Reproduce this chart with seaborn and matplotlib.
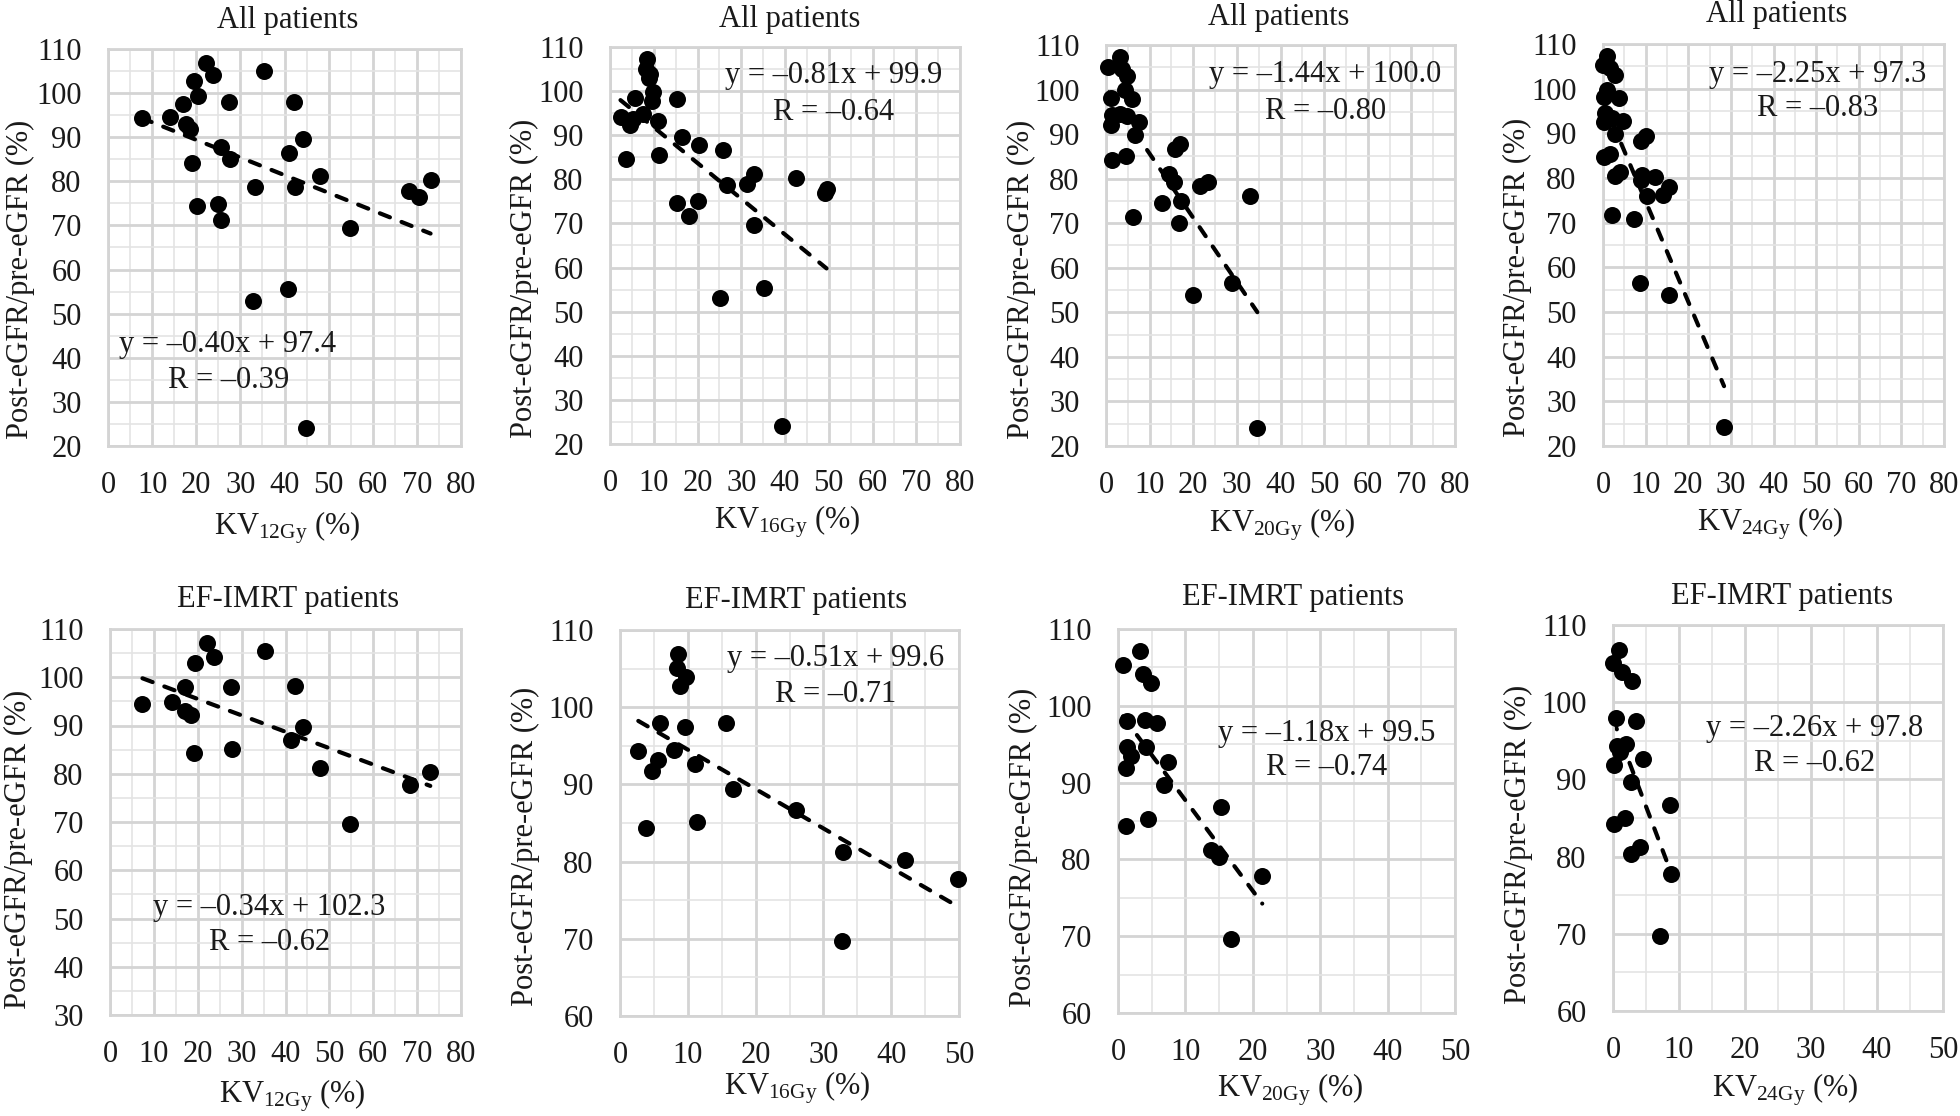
import numpy as np
import pandas as pd
import matplotlib
matplotlib.use("Agg")
import matplotlib.pyplot as plt
import seaborn as sns
from matplotlib.ticker import MultipleLocator

# ---------------- data ----------------
# All patients
kv12_all = [7.6, 14.1, 17.0, 17.6, 18.5, 19.5, 20.3, 19.0, 20.2, 22.2, 23.8, 27.4, 25.5, 27.6, 25.0,
            25.5, 35.3, 33.3, 32.9, 42.1, 41.1, 44.1, 42.3, 40.8, 44.8, 48.0, 54.8, 68.3, 70.5, 73.1]
ratio12_all = [94.3, 94.5, 97.5, 93.0, 91.9, 102.8, 99.3, 84.2, 74.5, 106.9, 104.0, 97.9, 87.7, 85.0, 74.8,
               71.2, 105.0, 78.8, 52.9, 97.9, 86.5, 89.5, 78.8, 55.5, 24.0, 81.3, 69.5, 77.7, 76.5, 80.3]

kv16_all = [2.4, 3.7, 4.6, 5.7, 5.3, 7.6, 8.4, 8.2, 9.1, 8.8, 9.8, 9.5, 11.0, 11.3, 15.4, 15.4,
            16.4, 18.1, 20.4, 20.2, 25.9, 25.1, 26.8, 31.2, 32.8, 32.8, 35.3, 39.3, 42.5, 49.2, 49.5]
ratio16_all = [94.2, 84.7, 92.4, 98.5, 93.6, 94.8, 107.2, 105.1, 103.8, 102.9, 99.8, 97.7, 93.2, 85.5, 98.3, 74.7,
               89.6, 71.7, 87.7, 75.1, 86.7, 53.1, 78.8, 78.9, 81.3, 69.7, 55.4, 24.1, 80.3, 76.8, 77.8]

kv20_all = [0.4, 3.2, 4.7, 3.6, 1.15, 4.4, 5.9, 1.3, 1.15, 3.2, 4.7, 7.6, 6.6, 1.3, 4.5,
            6.3, 15.8, 17.0, 14.4, 15.5, 12.8, 17.3, 16.7, 21.5, 23.3, 20.0, 28.8, 32.9, 34.7]
ratio20_all = [105.1, 107.4, 103.0, 104.6, 98.2, 99.8, 97.8, 94.3, 92.1, 94.5, 94.1, 92.8, 89.7, 84.3, 85.1,
               71.4, 86.6, 87.8, 81.1, 79.2, 74.5, 74.9, 70.0, 78.4, 79.3, 53.8, 56.5, 76.2, 24.0]

kv24_all = [0.9, 0.0, 1.7, 2.9, 0.9, 0.2, 3.7, 0.5, 0.2, 2.1, 4.7, 2.7, 0.2, 1.7, 4.1,
            2.9, 2.1, 8.9, 10.2, 8.8, 9.1, 12.1, 10.3, 14.1, 15.4, 7.2, 8.75, 15.4, 28.4]
ratio24_all = [107.4, 105.4, 104.6, 103.1, 99.8, 98.2, 97.8, 94.6, 92.6, 93.4, 92.8, 89.8, 84.6, 85.4, 81.4,
               80.4, 71.8, 88.2, 89.4, 79.5, 80.7, 80.3, 75.9, 76.3, 77.9, 70.9, 56.5, 53.8, 24.3]

# EF-IMRT patients
kv12_ef = [7.4, 14.1, 17.2, 17.2, 18.4, 19.3, 19.2, 22.0, 23.6, 27.5, 27.7, 35.3, 42.1, 41.2, 43.9,
           47.9, 54.7, 68.4, 73.0]
ratio12_ef = [94.5, 94.8, 97.9, 93.0, 92.1, 103.0, 84.3, 107.0, 104.3, 98.0, 85.1, 105.4, 98.2, 87.0, 89.7,
              81.1, 69.5, 77.7, 80.4]

kv16_ef = [2.7, 3.9, 4.7, 5.6, 5.9, 7.9, 8.6, 8.35, 9.8, 8.9, 9.6, 11.05, 11.4, 15.6, 16.7,
           26.0, 32.9, 32.8, 42.0, 49.85]
ratio16_ef = [94.3, 84.3, 91.7, 93.1, 97.9, 94.5, 106.9, 105.1, 103.9, 102.8, 97.5, 92.6, 85.1, 98.0, 89.4,
              86.7, 81.2, 69.7, 80.2, 77.7]

kv20_ef = [0.74, 3.2, 3.7, 4.95, 1.4, 4.0, 5.8, 1.4, 2.0, 1.2, 4.2, 7.4, 6.8, 1.2, 4.5,
           15.3, 13.8, 15.0, 21.4, 16.7]
ratio20_ef = [105.3, 107.1, 104.1, 103.0, 98.0, 98.1, 97.8, 94.6, 93.4, 91.9, 94.6, 92.7, 89.7, 84.4, 85.2,
              86.8, 81.2, 80.3, 77.8, 69.7]

kv24_ef = [0.96, 0.0, 1.36, 2.9, 0.45, 3.5, 0.6, 1.9, 1.1, 0.2, 4.5, 2.8, 0.2, 1.8, 2.8,
           4.1, 8.7, 8.8, 7.1]
ratio24_ef = [106.8, 105.1, 103.9, 102.8, 97.9, 97.5, 94.3, 94.6, 93.6, 91.9, 92.6, 89.7, 84.2, 85.0, 80.3,
              81.2, 86.7, 77.8, 69.7]

# regression equations shown on the chart
slopes = [-0.40, -0.81, -1.44, -2.25, -0.34, -0.51, -1.18, -2.26]
intercepts = [97.4, 99.9, 100.0, 97.3, 102.3, 99.6, 99.5, 97.8]
eq_texts = ["y = –0.40x + 97.4", "y = –0.81x + 99.9", "y = –1.44x + 100.0", "y = –2.25x + 97.3",
            "y = –0.34x + 102.3", "y = –0.51x + 99.6", "y = –1.18x + 99.5", "y = –2.26x + 97.8"]
r_texts = ["R = –0.39", "R = –0.64", "R = –0.80", "R = –0.83",
           "R = –0.62", "R = –0.71", "R = –0.74", "R = –0.62"]
titles = ["All patients"] * 4 + ["EF-IMRT patients"] * 4
dose_labels = ["12Gy", "16Gy", "20Gy", "24Gy"] * 2
ylabel_text = "Post-eGFR/pre-eGFR (%)"

xs_data = [kv12_all, kv16_all, kv20_all, kv24_all, kv12_ef, kv16_ef, kv20_ef, kv24_ef]
ys_data = [ratio12_all, ratio16_all, ratio20_all, ratio24_all, ratio12_ef, ratio16_ef, ratio20_ef, ratio24_ef]
xlims = [(0, 80)] * 5 + [(0, 50)] * 3
ylims = [(20, 110)] * 4 + [(30, 110)] + [(60, 110)] * 3

# ---------------- layout (pixels in a 1960x1116 canvas) ----------------
W, H = 1960, 1116
boxes = [(108, 49, 461, 446), (610, 47, 960, 444), (1106, 45, 1455, 446), (1603, 44, 1944, 446),
         (110, 629, 461, 1015), (620, 630, 959, 1016), (1118, 629, 1455, 1013), (1613, 625, 1943, 1011)]
title_pos = [(288, 28), (790, 27), (1279, 25), (1777, 22), (288, 607), (796, 608), (1293, 605), (1782, 604)]
xlabel_pos = [(287, 534), (787, 528), (1282, 532), (1770, 530), (292, 1102), (797, 1094), (1290, 1097), (1785, 1097)]
ylabel_pos = [(20, 279), (524, 278), (1021, 279), (1517, 277), (18, 849), (525, 846), (1023, 847), (1518, 844)]
eq_pos = [(228, 352), (834, 83), (1325, 82), (1818, 82), (269, 915), (836, 666), (1327, 741), (1815, 736)]
r_pos = [(229, 388), (834, 120), (1326, 119), (1818, 116), (270, 950), (836, 702), (1327, 775), (1815, 771)]

sns.set_theme(style="white")
plt.rcParams["font.family"] = ["Liberation Serif", "DejaVu Serif"]
plt.rcParams["mathtext.fontset"] = "custom"
plt.rcParams["mathtext.rm"] = "Liberation Serif"
plt.rcParams["mathtext.it"] = "Liberation Serif:italic"

FS = 22
TXT = "#1a1a1a"
MAJOR = "#d4d4d4"
MINOR = "#e4e4e4"

fig = plt.figure(figsize=(W / 100, H / 100), dpi=100)
fig.patch.set_facecolor("white")


def fx(px):
    return px / W


def fy(py):
    return 1 - py / H


for i in range(8):
    l, t, r, b = boxes[i]
    ax = fig.add_axes([fx(l), fy(b), (r - l) / W, (b - t) / H])
    ax.set_facecolor("white")
    df = pd.DataFrame({"x": xs_data[i], "y": ys_data[i]})
    ax.set_xlim(*xlims[i])
    ax.set_ylim(*ylims[i])
    ax.xaxis.set_major_locator(MultipleLocator(10))
    ax.xaxis.set_minor_locator(MultipleLocator(5))
    ax.yaxis.set_major_locator(MultipleLocator(10))
    ax.yaxis.set_minor_locator(MultipleLocator(5))
    ax.grid(which="major", color=MAJOR, lw=2.0, zorder=0)
    ax.grid(which="minor", color=MINOR, lw=1.2, zorder=0)
    ax.set_axisbelow(True)
    for sp in ax.spines.values():
        sp.set_color(MAJOR)
        sp.set_linewidth(2.0)
    ax.tick_params(which="both", length=0, labelsize=FS, colors=TXT)
    ax.tick_params(axis="y", pad=19)
    ax.tick_params(axis="x", pad=18)

    # trend line over the data range, from the printed equation
    x0, x1 = min(xs_data[i]), max(xs_data[i])
    tx = np.array([x0, x1])
    ty = slopes[i] * tx + intercepts[i]
    ax.plot(tx, ty, color="black", lw=3.0, linestyle=(0, (2.6, 3.0)),
            dash_capstyle="round", zorder=2)

    sns.scatterplot(data=df, x="x", y="y", ax=ax, color="black", s=150,
                    linewidth=0, zorder=3, clip_on=False)

    ax.set_xlabel("")
    ax.set_ylabel("")

    # titles / labels / equation texts
    tx_, ty_ = title_pos[i]
    fig.text(fx(tx_), fy(ty_), titles[i], ha="center", va="baseline", fontsize=FS, color=TXT)
    lx, ly = xlabel_pos[i]
    fig.text(fx(lx), fy(ly), r"KV$_{\mathregular{%s}}$ (%%)" % dose_labels[i],
             ha="center", va="baseline", fontsize=FS, color=TXT)
    yx, yy = ylabel_pos[i]
    fig.text(fx(yx), fy(yy), ylabel_text, ha="center", va="center", rotation=90,
             fontsize=FS, color=TXT)
    ex, ey = eq_pos[i]
    fig.text(fx(ex), fy(ey), eq_texts[i], ha="center", va="baseline", fontsize=FS, color=TXT)
    rx, ry = r_pos[i]
    fig.text(fx(rx), fy(ry), r_texts[i], ha="center", va="baseline", fontsize=FS, color=TXT)

fig.savefig("out.png", dpi=100, facecolor="white")
